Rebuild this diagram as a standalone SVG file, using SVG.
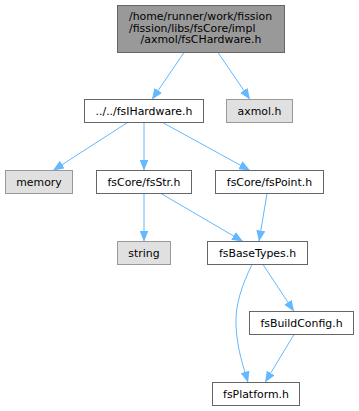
<svg xmlns="http://www.w3.org/2000/svg" width="359" height="411" viewBox="0 0 359 411">
<style>
  .n rect { fill: #ffffff; stroke: #666666; stroke-width: 1; }
  .n.sys rect { fill: #e0e0e0; stroke: #999999; }
  .n.root rect { fill: #999999; stroke: #666666; }
  text { font-family: "DejaVu Sans", "Noto Sans", sans-serif; font-size: 10.9px; fill: #000000; }
  .c { text-anchor: middle; }
  .edges path { fill: none; stroke: #63b8ff; stroke-width: 1; marker-end: url(#arr); }
</style>
<defs>
  <marker id="arr" viewBox="0 0 11 9" markerWidth="11" markerHeight="9" refX="11" refY="4.5" orient="auto" markerUnits="userSpaceOnUse">
    <path d="M0,0 L11,4.5 L0,9 z" fill="#63b8ff"/>
  </marker>
</defs>
<rect width="359" height="411" fill="#ffffff"/>
<g class="edges">
  <path d="M184,52.5 L152,99.5"/>
  <path d="M218,52.5 L250,99.5"/>
  <path d="M127.5,122.5 L53,170.5"/>
  <path d="M144,122.5 L144,170.5"/>
  <path d="M162.5,122.5 L250,170.5"/>
  <path d="M144,193.5 L144,241.5"/>
  <path d="M161,193.5 L243,241.5"/>
  <path d="M267,193.5 L259,241.5"/>
  <path d="M252,264.5 C242,285 235,305 236,325 C237,350 244,368 248,382.5"/>
  <path d="M263,264.5 L294,311.5"/>
  <path d="M294,334.5 L265,382.5"/>
</g>
<g id="node-root" class="n root">
  <rect x="117.5" y="5.5" width="167" height="47"/>
  <text x="129" y="20">/home/runner/work/fission</text>
  <text x="129" y="31.5">/fission/libs/fsCore/impl</text>
  <text class="c" x="201" y="43">/axmol/fsCHardware.h</text>
</g>
<g id="node-fsIHardware" class="n">
  <rect x="84.5" y="99.5" width="119" height="23"/>
  <text class="c" x="144" y="115">../../fsIHardware.h</text>
</g>
<g id="node-axmol" class="n sys">
  <rect x="226.5" y="99.5" width="66" height="23"/>
  <text class="c" x="259.5" y="115">axmol.h</text>
</g>
<g id="node-memory" class="n sys">
  <rect x="5.5" y="170.5" width="67" height="23"/>
  <text class="c" x="39" y="186">memory</text>
</g>
<g id="node-fsStr" class="n">
  <rect x="96.5" y="170.5" width="95" height="23"/>
  <text class="c" x="144" y="186">fsCore/fsStr.h</text>
</g>
<g id="node-fsPoint" class="n">
  <rect x="215.5" y="170.5" width="108" height="23"/>
  <text class="c" x="269.5" y="186">fsCore/fsPoint.h</text>
</g>
<g id="node-string" class="n sys">
  <rect x="117.5" y="241.5" width="53" height="23"/>
  <text class="c" x="144" y="257">string</text>
</g>
<g id="node-fsBaseTypes" class="n">
  <rect x="207.5" y="241.5" width="100" height="23"/>
  <text class="c" x="257.5" y="257">fsBaseTypes.h</text>
</g>
<g id="node-fsBuildConfig" class="n">
  <rect x="249.5" y="311.5" width="104" height="23"/>
  <text class="c" x="301.5" y="327">fsBuildConfig.h</text>
</g>
<g id="node-fsPlatform" class="n">
  <rect x="212.5" y="382.5" width="87" height="23"/>
  <text class="c" x="256" y="398">fsPlatform.h</text>
</g>
</svg>
